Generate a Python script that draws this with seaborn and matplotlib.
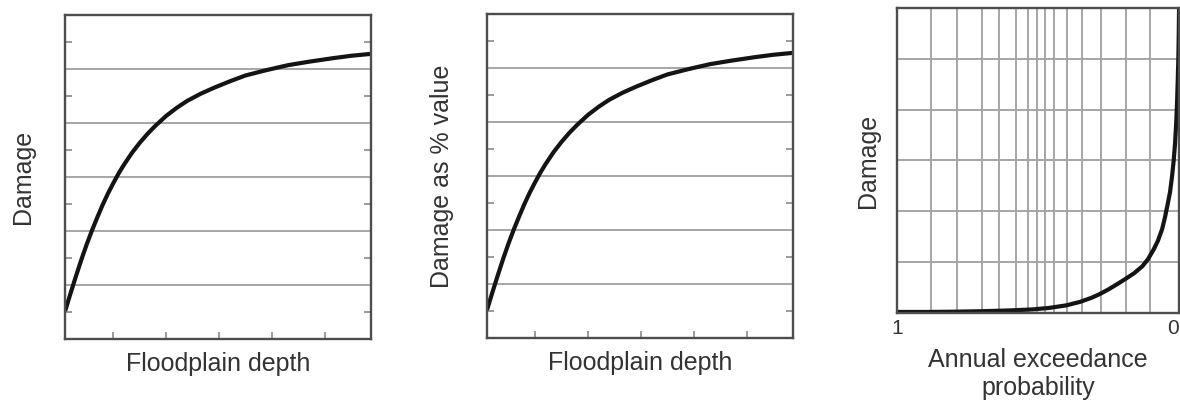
import matplotlib
matplotlib.use("Agg")
import matplotlib.pyplot as plt
from matplotlib.ticker import FixedLocator, NullFormatter
import seaborn as sns

# Depth-damage curve (panels 1 and 2)
depth = [0.10, 0.20, 0.30, 0.40, 0.50, 0.60, 0.70, 0.80, 0.90, 1.00,
         1.10, 1.20, 1.35, 1.50, 1.65, 1.80, 2.00, 2.20, 2.40, 2.65,
         2.90, 3.20, 3.50, 3.90, 4.30, 4.70, 5.15, 5.50, 5.87]
damage = [0.54, 0.86, 1.17, 1.47, 1.75, 2.01, 2.25, 2.48, 2.69, 2.88,
          3.06, 3.22, 3.44, 3.63, 3.80, 3.95, 4.13, 4.28, 4.41, 4.54,
          4.65, 4.77, 4.88, 4.98, 5.07, 5.135, 5.20, 5.245, 5.28]
damage_pct = list(damage)

# Damage-probability curve (panel 3)
aep = [1.00, 0.90, 0.80, 0.70, 0.60, 0.52, 0.46, 0.40, 0.35, 0.31,
       0.28, 0.25, 0.22, 0.19, 0.16, 0.13, 0.11, 0.09, 0.075, 0.06,
       0.05, 0.04, 0.032, 0.025, 0.019, 0.014, 0.010, 0.007, 0.0045,
       0.0025, 0.001, 0.0]
aep_damage = [0.02, 0.02, 0.025, 0.035, 0.05, 0.07, 0.10, 0.15, 0.22, 0.30,
              0.375, 0.465, 0.565, 0.67, 0.78, 0.92, 1.06, 1.25, 1.42, 1.65,
              1.88, 2.15, 2.38, 2.68, 3.00, 3.35, 3.75, 4.15, 4.60,
              5.00, 5.50, 6.00]

# Axis furniture
depth_ticks = [1, 2, 3, 4, 5]
damage_grid = [1, 2, 3, 4, 5]
damage_ticks = [0.5, 1.5, 2.5, 3.5, 4.5, 5.5]
prob_grid = [0.879, 0.787, 0.699, 0.638, 0.578, 0.535, 0.504, 0.475,
             0.443, 0.397, 0.344, 0.277, 0.188, 0.103]
prob_ticks = [1, 0]
prob_labels = ["1", "0"]

sns.set_theme(style="white")
plt.rcParams["font.family"] = ["Liberation Sans", "DejaVu Sans"]

TEXT = "#333333"
SPINE = "#4d4d4d"
GRID = "#a6a6a6"
CURVE = "#141414"

fig = plt.figure(figsize=(11.8, 4.05), dpi=100)
fig.patch.set_facecolor("white")


def style_spines(ax):
    for s in ax.spines.values():
        s.set_visible(True)
        s.set_color(SPINE)
        s.set_linewidth(1.7)


def depth_panel(rect, ylabel, values, ylab_x):
    ax = fig.add_axes(rect)
    ax.set_facecolor("white")
    sns.lineplot(x=depth, y=values, ax=ax, color=CURVE, linewidth=3.0,
                 estimator=None)
    ax.set_xlim(0.10, 5.87)
    ax.set_ylim(0, 6)
    ax.yaxis.set_major_locator(FixedLocator(damage_grid))
    ax.yaxis.set_minor_locator(FixedLocator(damage_ticks))
    ax.xaxis.set_major_locator(FixedLocator(depth_ticks))
    ax.yaxis.set_major_formatter(NullFormatter())
    ax.xaxis.set_major_formatter(NullFormatter())
    ax.grid(False)
    ax.yaxis.grid(True, which="major", color=GRID, linewidth=1.4)
    ax.tick_params(axis="y", which="major", length=0)
    ax.tick_params(axis="y", which="minor", direction="in", length=5,
                   width=1.1, color="#808080", left=True, right=True)
    ax.tick_params(axis="x", which="major", direction="in", length=5,
                   width=1.1, color="#808080", bottom=True, top=False)
    style_spines(ax)
    ax.set_xlabel("Floodplain depth", fontsize=18, color=TEXT, va="center")
    ax.xaxis.set_label_coords(0.5, -0.078)
    ax.set_ylabel(ylabel, fontsize=18, color=TEXT, va="center")
    ax.yaxis.set_label_coords(ylab_x, 0.5)
    return ax


depth_panel([0.0555, 0.163, 0.2589, 0.800], "Damage", damage, -0.139)
depth_panel([0.413, 0.1654, 0.2588, 0.800], "Damage as % value",
            damage_pct, -0.148)

# Damage against annual exceedance probability
ax3 = fig.add_axes([0.7602, 0.2272, 0.2390, 0.7531])
ax3.set_facecolor("white")
sns.lineplot(x=aep, y=aep_damage, ax=ax3, color=CURVE, linewidth=3.0,
             estimator=None, sort=False)
ax3.set_xlim(1, 0)
ax3.set_ylim(0, 6)
ax3.xaxis.set_major_locator(FixedLocator(prob_ticks))
ax3.set_xticklabels(prob_labels)
ax3.xaxis.set_minor_locator(FixedLocator(prob_grid))
ax3.yaxis.set_major_locator(FixedLocator(damage_grid))
ax3.yaxis.set_major_formatter(NullFormatter())
ax3.grid(False)
ax3.xaxis.grid(True, which="minor", color=GRID, linewidth=1.4)
ax3.yaxis.grid(True, which="major", color=GRID, linewidth=1.4)
ax3.tick_params(axis="both", which="both", length=0)
ax3.tick_params(axis="x", which="major", labelsize=15, labelcolor=TEXT,
                pad=4)
# keep the end label inside the figure edge
ax3.get_xticklabels()[-1].set_horizontalalignment("right")
style_spines(ax3)
ax3.set_xlabel("Annual exceedance\nprobability", fontsize=18, color=TEXT,
               va="center", linespacing=1.2)
ax3.xaxis.set_label_coords(0.5, -0.2)
ax3.set_ylabel("Damage", fontsize=18, color=TEXT, va="center")
ax3.yaxis.set_label_coords(-0.102, 0.5)

fig.savefig("out.png", dpi=100, facecolor="white")
